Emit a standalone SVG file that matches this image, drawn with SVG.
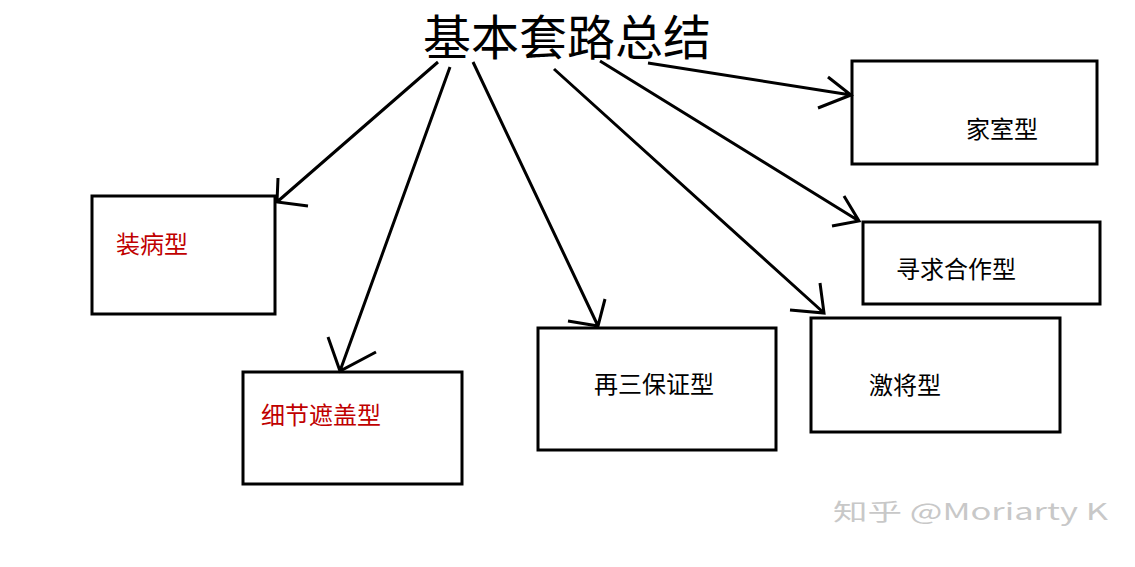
<svg xmlns="http://www.w3.org/2000/svg" width="1135" height="567" viewBox="0 0 1135 567">
<style>
.box{fill:#fff;stroke:#000;stroke-width:3}
.ln{fill:none;stroke:#000;stroke-width:3;stroke-linecap:butt;stroke-linejoin:miter}
.lbl{font-family:"Noto Sans CJK SC","Noto Sans",sans-serif;font-size:24px;fill:#000}
.red{fill:#c00000}
.title{font-family:"Noto Sans CJK SC","Noto Sans",sans-serif;font-size:48px;fill:#000}
.wm{font-family:"Noto Sans CJK SC","Noto Sans",sans-serif;font-size:23px;fill:#c8c8c8}
</style>
<rect width="1135" height="567" fill="#fff"/>
<g id="title"><text class="title" x="567" y="55" text-anchor="middle">基本套路总结</text></g>
<g id="node-zhuangbing"><rect class="box" x="92" y="196" width="183" height="118"/><text class="lbl red" x="116" y="253">装病型</text></g>
<g id="node-xijie"><rect class="box" x="243" y="372" width="219" height="112"/><text class="lbl red" x="261" y="424">细节遮盖型</text></g>
<g id="node-zaisan"><rect class="box" x="538" y="328" width="238" height="122"/><text class="lbl" x="594" y="393">再三保证型</text></g>
<g id="node-jijiang"><rect class="box" x="811" y="318" width="249" height="114"/><text class="lbl" x="869" y="394">激将型</text></g>
<g id="node-xunqiu"><rect class="box" x="863" y="222" width="237" height="82"/><text class="lbl" x="896" y="278">寻求合作型</text></g>
<g id="node-jiashi"><rect class="box" x="852" y="61" width="245" height="103"/><text class="lbl" x="966" y="138">家室型</text></g>
<g id="connectors">
<path class="ln" d="M438,62 L277,202 M278,178 L277,202 L308,206"/>
<path class="ln" d="M450,67 L340,371 M328,337 L340,371 L376,352"/>
<path class="ln" d="M473,62 L598,326 M605,299 L598,326 L568,321"/>
<path class="ln" d="M554,69 L824,313 M820,283 L824,313 L790,310"/>
<path class="ln" d="M600,61 L859,221 M844,196 L859,221 L832,226"/>
<path class="ln" d="M648,63 L851,95 M828,77 L851,95 L818,108"/>
</g>
<text class="wm" x="833" y="520" textLength="275" lengthAdjust="spacingAndGlyphs">知乎 @Moriarty K</text>
</svg>
